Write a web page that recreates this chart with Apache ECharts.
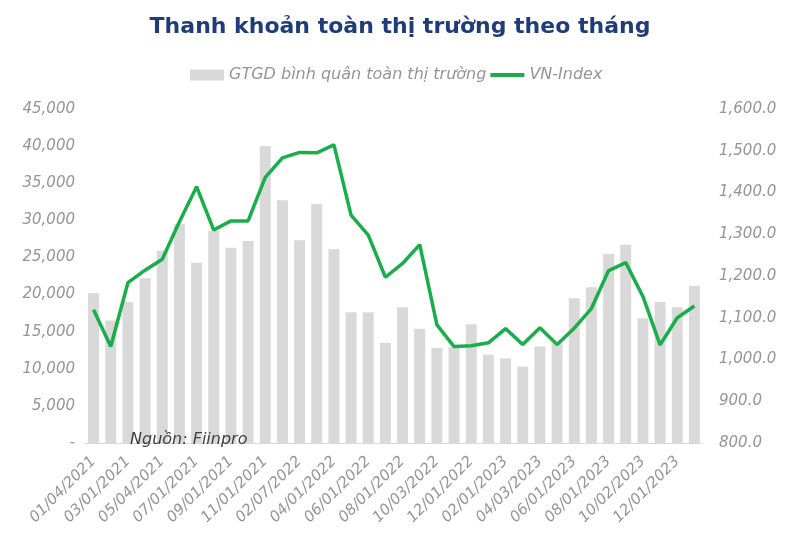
<!DOCTYPE html>
<html>
<head>
<meta charset="utf-8">
<title>Thanh khoản toàn thị trường theo tháng</title>
<script src="https://cdn.jsdelivr.net/npm/echarts@6/dist/echarts.min.js"></script>
<style>
  *{margin:0;padding:0;}
  html,body{width:800px;height:554px;background:#fff;}
  #main{width:800px;height:554px;}
</style>
</head>
<body>
<div id="main"></div>
<script>
// ngày giao dịch đầu mỗi tháng (không có tháng 01/2022)
var months = [
  '01/04/2021','02/01/2021','03/01/2021','04/01/2021','05/04/2021','06/01/2021',
  '07/01/2021','08/02/2021','09/01/2021','10/01/2021','11/01/2021','12/01/2021',
  '02/07/2022','03/01/2022','04/01/2022','05/04/2022','06/01/2022','07/01/2022',
  '08/01/2022','09/01/2022','10/03/2022','11/01/2022','12/01/2022','01/03/2023',
  '02/01/2023','03/01/2023','04/03/2023','05/04/2023','06/01/2023','07/03/2023',
  '08/01/2023','09/01/2023','10/02/2023','11/01/2023','12/01/2023','01/02/2024'
];
// GTGD bình quân (tỷ đồng)
var gtgd = [
  20200, 16500, 19000, 22200, 25900, 29500, 24300, 28600, 26300, 27200, 40000, 32700,
  27300, 32200, 26100, 17600, 17600, 13500, 18300, 15400, 12800, 12900, 16000, 11900,
  11400, 10300, 13000, 13500, 19500, 21000, 25500, 26700, 16800, 19000, 18300, 21200
];
// VN-Index
var vnindex = [
  1119, 1031, 1184, 1214, 1240, 1330, 1414, 1310, 1332, 1332, 1436, 1483,
  1496, 1495, 1514, 1346, 1298, 1197, 1230, 1275, 1083, 1031, 1033, 1040,
  1074, 1036, 1076, 1036, 1075, 1122, 1213, 1232, 1151, 1035, 1100, 1128
];

var font = '"DejaVu Sans", "Noto Sans", sans-serif';
var grey = '#959595';
var chart = echarts.init(document.getElementById('main'));

chart.setOption({
  animation: false,
  title: {
    text: 'Thanh khoản toàn thị trường theo tháng',
    left: 'center',
    top: 11,
    textStyle: {color: '#1f3c7a', fontSize: 22, fontWeight: 'bold', fontFamily: font}
  },
  legend: {
    left: 185,
    top: 62,
    itemWidth: 34,
    itemHeight: 11,
    itemGap: 4,
    textStyle: {color: grey, fontSize: 16, fontStyle: 'italic', fontFamily: font},
    data: [
      {name: 'GTGD bình quân toàn thị trường', icon: 'rect'},
      {name: 'VN-Index', icon: 'path://M0,0L34,0L34,4L0,4Z'}
    ]
  },
  graphic: [{
    type: 'text',
    left: 130,
    top: 432,
    z: 100,
    style: {text: 'Nguồn: Fiinpro', fill: '#404040', font: 'italic 16px ' + font}
  }],
  grid: {left: 85, right: 97, top: 109, bottom: 111},
  xAxis: {
    type: 'category',
    data: months,
    axisLine: {lineStyle: {color: '#d9d9d9'}},
    axisTick: {length: 5, interval: 0, lineStyle: {color: '#d9d9d9'}},
    axisLabel: {
      interval: 1,
      rotate: 45,
      color: grey,
      fontSize: 15,
      fontStyle: 'italic',
      fontFamily: font,
      margin: 16
    }
  },
  yAxis: [{
    type: 'value',
    min: 0,
    max: 45000,
    interval: 5000,
    splitLine: {show: false},
    axisLine: {show: false},
    axisTick: {show: false},
    axisLabel: {
      color: grey,
      fontSize: 15,
      fontStyle: 'italic',
      fontFamily: font,
      margin: 10,
      formatter: function (v) { return v === 0 ? '-' : v.toLocaleString('en-US'); }
    }
  }, {
    type: 'value',
    min: 800,
    max: 1600,
    interval: 100,
    splitLine: {show: false},
    axisLine: {show: false},
    axisTick: {show: false},
    axisLabel: {
      color: grey,
      fontSize: 15,
      fontStyle: 'italic',
      fontFamily: font,
      margin: 16,
      formatter: function (v) {
        return v.toLocaleString('en-US', {minimumFractionDigits: 1, maximumFractionDigits: 1});
      }
    }
  }],
  series: [{
    name: 'GTGD bình quân toàn thị trường',
    type: 'bar',
    data: gtgd,
    barWidth: '64%',
    itemStyle: {color: '#d9d9d9'}
  }, {
    name: 'VN-Index',
    type: 'line',
    yAxisIndex: 1,
    data: vnindex,
    symbol: 'none',
    lineStyle: {color: '#1aae4b', width: 3.5},
    itemStyle: {color: '#1aae4b'}
  }]
});
</script>
</body>
</html>
